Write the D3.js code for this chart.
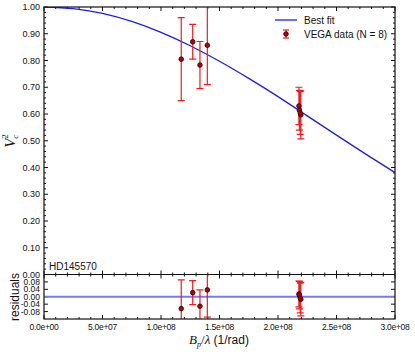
<!DOCTYPE html>
<html>
<head>
<meta charset="utf-8">
<script src="https://cdn.jsdelivr.net/npm/d3@7"></script>
<style>
  body { margin: 0; background: #fff; }
  svg { display: block; }
  text { font-family: "Liberation Sans", Arial, sans-serif; fill: #111; }
</style>
</head>
<body>
<div id="chart"></div>
<script>
// VEGA squared visibilities (N = 8)
var baselines = [1.173e8, 1.271e8, 1.333e8, 1.396e8, 2.179e8, 2.183e8, 2.195e8, 2.190e8];
var vis2      = [0.805, 0.870, 0.783, 0.857, 0.630, 0.614, 0.597, 0.604];
var vis2Err   = [0.155, 0.065, 0.088, 0.147, 0.070, 0.074, 0.090, 0.080];
var residuals = [-0.064, 0.022, -0.051, 0.037, 0.015, 0.009, -0.013, -0.007];

// best fit curve
var fitX  = [0, 0.25e8, 0.5e8, 0.75e8, 1.0e8, 1.25e8, 1.5e8, 1.75e8, 2.0e8, 2.25e8, 2.5e8, 2.75e8, 3.0e8];
var fitV2 = [1.000, 0.994, 0.976, 0.946, 0.905, 0.855, 0.797, 0.733, 0.665, 0.593, 0.521, 0.450, 0.381];

var yTicks = [0.00, 0.10, 0.20, 0.30, 0.40, 0.50, 0.60, 0.70, 0.80, 0.90, 1.00];
var resTicks = [0.08, 0.04, 0.00, -0.04, -0.08];
var xTicks = [0, 0.5e8, 1.0e8, 1.5e8, 2.0e8, 2.5e8, 3.0e8];

var width = 415, height = 352;
var mLeft = 44, mRight = 395, mTop = 7, mMid = 274.5, mBottom = 319;

var svg = d3.select("#chart").append("svg")
  .attr("width", width)
  .attr("height", height);

var x = d3.scaleLinear().domain([0, 3e8]).range([mLeft, mRight]);
var y = d3.scaleLinear().domain([0, 1]).range([mMid, mTop]);
var yr = d3.scaleLinear().domain([-0.12, 0.12]).range([mBottom, mMid]);

function sci(v) {
  if (v === 0) return "0.0e+00";
  var e = Math.floor(Math.log10(v));
  var m = v / Math.pow(10, e);
  return m.toFixed(1) + "e+" + (e < 10 ? "0" + e : e);
}

var defs = svg.append("defs");
defs.append("clipPath").attr("id", "clipMain")
  .append("rect").attr("x", mLeft).attr("y", mTop).attr("width", mRight - mLeft).attr("height", mMid - mTop);
defs.append("clipPath").attr("id", "clipRes")
  .append("rect").attr("x", mLeft).attr("y", mMid).attr("width", mRight - mLeft).attr("height", mBottom - mMid);

var minorX = d3.range(0, 3e8 + 1, 1e7);
var minorY = d3.range(0, 1.0001, 0.02);

// ---- ticks on all sides, pointing inward
var axes = svg.append("g").attr("stroke", "#111").attr("stroke-width", 1);
function vtick(g, xp, y1, y2) { g.append("line").attr("x1", xp).attr("x2", xp).attr("y1", y1).attr("y2", y2); }
function htick(g, yp, x1, x2) { g.append("line").attr("x1", x1).attr("x2", x2).attr("y1", yp).attr("y2", yp); }

minorX.forEach(function(v) {
  var major = xTicks.some(function(t) { return Math.abs(t - v) < 1; });
  var len = major ? 4 : 2;
  vtick(axes, x(v), mTop, mTop + len);
  vtick(axes, x(v), mMid, mMid - len);
  vtick(axes, x(v), mMid, mMid + len);
  vtick(axes, x(v), mBottom, mBottom - len);
});
minorY.forEach(function(v) {
  var major = Math.abs(v * 10 - Math.round(v * 10)) < 1e-6;
  var len = major ? 4 : 2;
  htick(axes, y(v), mLeft, mLeft + len);
  htick(axes, y(v), mRight, mRight - len);
});
resTicks.forEach(function(v) {
  htick(axes, yr(v), mLeft, mLeft + 4);
  htick(axes, yr(v), mRight, mRight - 4);
});

// ---- tick labels
svg.append("g").selectAll("text")
  .data(yTicks)
  .enter().append("text")
  .attr("x", mLeft - 4)
  .attr("y", function(d) { return y(d) + 3.2; })
  .attr("text-anchor", "end")
  .attr("font-size", 9)
  .text(function(d) { return d.toFixed(2); });

svg.append("g").selectAll("text")
  .data(resTicks)
  .enter().append("text")
  .attr("x", mLeft - 4)
  .attr("y", function(d) { return yr(d) + 3; })
  .attr("text-anchor", "end")
  .attr("font-size", 8.5)
  .text(function(d) { return d.toFixed(2); });

svg.append("g").selectAll("text")
  .data(xTicks)
  .enter().append("text")
  .attr("x", function(d) { return x(d); })
  .attr("y", mBottom + 11)
  .attr("text-anchor", "middle")
  .attr("font-size", 8.5)
  .attr("letter-spacing", -0.3)
  .text(sci);

// ---- best fit curve
var line = d3.line()
  .x(function(d) { return x(d[0]); })
  .y(function(d) { return y(d[1]); })
  .curve(d3.curveNatural);

svg.append("path")
  .datum(d3.zip(fitX, fitV2))
  .attr("clip-path", "url(#clipMain)")
  .attr("d", line)
  .attr("fill", "none")
  .attr("stroke", "#1e1ef0")
  .attr("stroke-width", 1.3);

// ---- residual zero line
svg.append("line")
  .attr("x1", mLeft).attr("x2", mRight)
  .attr("y1", yr(0)).attr("y2", yr(0))
  .attr("stroke", "#7878f4")
  .attr("stroke-width", 2);

// ---- error bars + points
var pts = d3.range(baselines.length).map(function(i) {
  return { b: baselines[i], v: vis2[i], e: vis2Err[i], r: residuals[i] };
});

function errorBars(g, ys, key) {
  var eb = g.selectAll("g.eb").data(pts).enter().append("g")
    .attr("stroke", "#f21c1c").attr("stroke-width", 1.2);
  eb.append("line")
    .attr("x1", function(d) { return x(d.b); })
    .attr("x2", function(d) { return x(d.b); })
    .attr("y1", function(d) { return ys(d[key] - d.e); })
    .attr("y2", function(d) { return ys(d[key] + d.e); });
  eb.append("line")
    .attr("x1", function(d) { return x(d.b) - 3.5; })
    .attr("x2", function(d) { return x(d.b) + 3.5; })
    .attr("y1", function(d) { return ys(d[key] - d.e); })
    .attr("y2", function(d) { return ys(d[key] - d.e); });
  eb.append("line")
    .attr("x1", function(d) { return x(d.b) - 3.5; })
    .attr("x2", function(d) { return x(d.b) + 3.5; })
    .attr("y1", function(d) { return ys(d[key] + d.e); })
    .attr("y2", function(d) { return ys(d[key] + d.e); });
  g.selectAll("circle").data(pts).enter().append("circle")
    .attr("cx", function(d) { return x(d.b); })
    .attr("cy", function(d) { return ys(d[key]); })
    .attr("r", 2.3)
    .attr("fill", "#b80000")
    .attr("stroke", "#2a0000")
    .attr("stroke-width", 0.8);
}

errorBars(svg.append("g").attr("clip-path", "url(#clipMain)"), y, "v");
errorBars(svg.append("g").attr("clip-path", "url(#clipRes)"), yr, "r");

// ---- frames
svg.append("rect")
  .attr("x", mLeft).attr("y", mTop).attr("width", mRight - mLeft).attr("height", mBottom - mTop)
  .attr("fill", "none").attr("stroke", "#111").attr("stroke-width", 1.2);
svg.append("line")
  .attr("x1", mLeft).attr("x2", mRight).attr("y1", mMid).attr("y2", mMid)
  .attr("stroke", "#111").attr("stroke-width", 1.2);

// ---- star name
svg.append("text")
  .attr("x", 49).attr("y", 270)
  .attr("font-size", 10)
  .text("HD145570");

// ---- legend
var lg = svg.append("g");
lg.append("line")
  .attr("x1", 275).attr("x2", 297).attr("y1", 20).attr("y2", 20)
  .attr("stroke", "#1e1ef0").attr("stroke-width", 1.3);
lg.append("text").attr("x", 304).attr("y", 23.5).attr("font-size", 10).text("Best fit");
var le = lg.append("g").attr("stroke", "#f21c1c").attr("stroke-width", 1.2);
le.append("line").attr("x1", 286).attr("x2", 286).attr("y1", 30).attr("y2", 38);
le.append("line").attr("x1", 283).attr("x2", 289).attr("y1", 30).attr("y2", 30);
le.append("line").attr("x1", 283).attr("x2", 289).attr("y1", 38).attr("y2", 38);
lg.append("circle").attr("cx", 286).attr("cy", 34).attr("r", 2.3)
  .attr("fill", "#b80000").attr("stroke", "#2a0000").attr("stroke-width", 0.8);
lg.append("text").attr("x", 304).attr("y", 37.5).attr("font-size", 10).text("VEGA data (N = 8)");

// ---- axis titles
var yl = svg.append("text")
  .attr("transform", "translate(15,141) rotate(-90)")
  .attr("text-anchor", "middle")
  .style("font-family", "'Liberation Serif', 'DejaVu Serif', serif")
  .attr("font-size", 15);
yl.append("tspan").attr("font-style", "italic").text("V");
yl.append("tspan").attr("font-size", 9).attr("font-style", "italic").attr("dy", 3).text("c");
yl.append("tspan").attr("font-size", 9).attr("dx", -4).attr("dy", -10).text("2");

svg.append("text")
  .attr("transform", "translate(19,297) rotate(-90)")
  .attr("text-anchor", "middle")
  .attr("font-size", 12)
  .text("residuals");

var xl = svg.append("text")
  .attr("x", 219).attr("y", 344)
  .attr("text-anchor", "middle")
  .attr("font-size", 12);
xl.append("tspan").style("font-family", "'Liberation Serif', serif").attr("font-style", "italic").attr("font-size", 13).text("B");
xl.append("tspan").style("font-family", "'Liberation Serif', serif").attr("font-style", "italic").attr("font-size", 8).attr("dy", 3).text("p");
xl.append("tspan").style("font-family", "'Liberation Serif', serif").attr("font-size", 13).attr("dy", -3).text("/");
xl.append("tspan").style("font-family", "'Liberation Serif', serif").attr("font-style", "italic").attr("font-size", 13).text("λ");
xl.append("tspan").text(" (1/rad)");
</script>
</body>
</html>
